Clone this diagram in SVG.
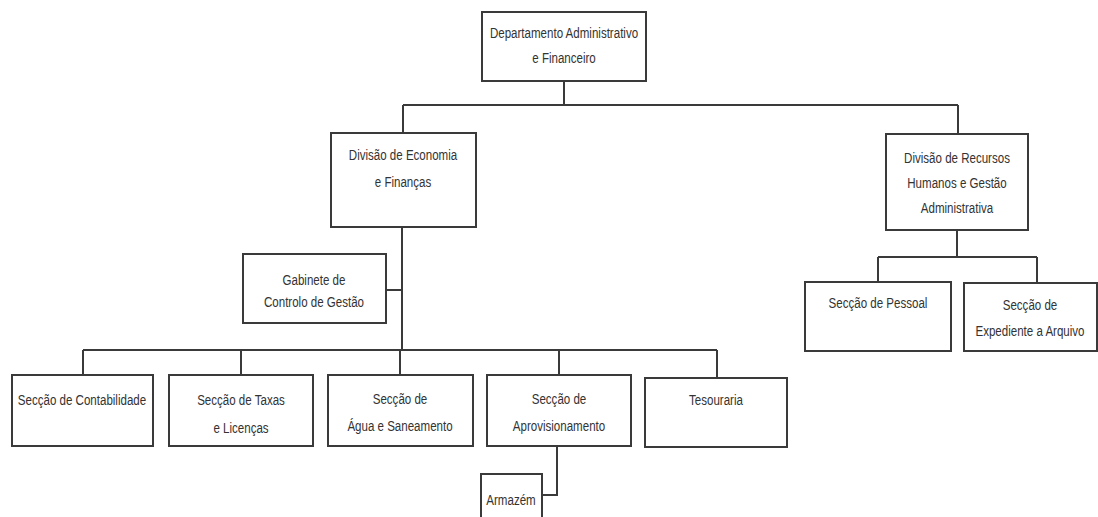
<svg xmlns="http://www.w3.org/2000/svg" width="1098" height="517" viewBox="0 0 1098 517">
<style>
.box{fill:#fff;stroke:#3a3a3a;stroke-width:2}
.ln{fill:none;stroke:#3a3a3a;stroke-width:2}
text{font-family:"Liberation Sans",Arial,sans-serif;font-size:15px;fill:#333;text-anchor:middle}
</style>
<rect width="1098" height="517" fill="#fff"/>
<g id="connectors">
<path class="ln" d="M564 81V105M403 105H958M403 105V133M958 105V134"/>
<path class="ln" d="M402 227V350M386 290H402"/>
<path class="ln" d="M83 350H717M83 350V375M241 350V375M400 350V375M559 350V375M717 350V378"/>
<path class="ln" d="M557 446V495H542"/>
<path class="ln" d="M957 230V257M878 257H1037M878 257V282M1037 257V283"/>
</g>
<g id="n-dep"><rect class="box" x="482" y="12" width="164" height="69"/><text transform="translate(564 38) scale(0.77 1)">Departamento Administrativo</text><text transform="translate(564 63) scale(0.77 1)">e Financeiro</text></g>
<g id="n-def"><rect class="box" x="331" y="133" width="145" height="94"/><text transform="translate(403 160) scale(0.77 1)">Divisão de Economia</text><text transform="translate(403 187) scale(0.77 1)">e Finanças</text></g>
<g id="n-drh"><rect class="box" x="886" y="134" width="142" height="96"/><text transform="translate(957 163) scale(0.77 1)">Divisão de Recursos</text><text transform="translate(957 188) scale(0.77 1)">Humanos e Gestão</text><text transform="translate(957 213) scale(0.77 1)">Administrativa</text></g>
<g id="n-gab"><rect class="box" x="243" y="254" width="143" height="69"/><text transform="translate(314 285) scale(0.77 1)">Gabinete de</text><text transform="translate(314 307) scale(0.77 1)">Controlo de Gestão</text></g>
<g id="n-pes"><rect class="box" x="805" y="282" width="146" height="69"/><text transform="translate(878 308) scale(0.77 1)">Secção de Pessoal</text></g>
<g id="n-exp"><rect class="box" x="964" y="283" width="133" height="68"/><text transform="translate(1030 310) scale(0.77 1)">Secção de</text><text transform="translate(1030 336) scale(0.77 1)">Expediente a Arquivo</text></g>
<g id="n-con"><rect class="box" x="12" y="375" width="141" height="71"/><text transform="translate(82 405) scale(0.77 1)">Secção de Contabilidade</text></g>
<g id="n-tax"><rect class="box" x="169" y="375" width="144" height="71"/><text transform="translate(241 405) scale(0.77 1)">Secção de Taxas</text><text transform="translate(241 433) scale(0.77 1)">e Licenças</text></g>
<g id="n-agu"><rect class="box" x="328" y="375" width="145" height="71"/><text transform="translate(400 404) scale(0.77 1)">Secção de</text><text transform="translate(400 431) scale(0.77 1)">Água e Saneamento</text></g>
<g id="n-apr"><rect class="box" x="487" y="375" width="144" height="71"/><text transform="translate(559 404) scale(0.77 1)">Secção de</text><text transform="translate(559 431) scale(0.77 1)">Aprovisionamento</text></g>
<g id="n-tes"><rect class="box" x="645" y="378" width="142" height="69"/><text transform="translate(716 405) scale(0.77 1)">Tesouraria</text></g>
<g id="n-arm"><rect class="box" x="481" y="474" width="61" height="50"/><text transform="translate(511 505) scale(0.77 1)">Armazém</text></g>
</svg>
